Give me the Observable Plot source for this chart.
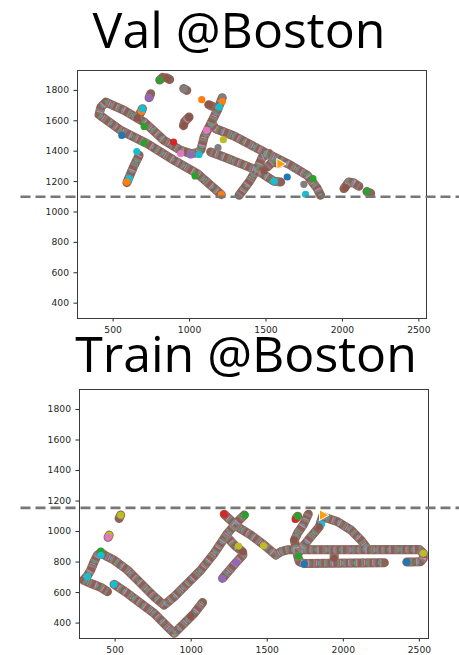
<!DOCTYPE html>
<html><head><meta charset="utf-8">
<script src="https://cdn.jsdelivr.net/npm/d3@7"></script>
<script src="https://cdn.jsdelivr.net/npm/@observablehq/plot@0.6"></script>
<style>
body{margin:0;width:459px;height:655px;position:relative;overflow:hidden;background:#fff}
.t{position:absolute;font-family:"Open Sans";font-size:50px;line-height:50px;height:56px;white-space:nowrap;transform:translateX(-50%);color:#000;z-index:2}
.p{position:absolute;left:0;z-index:1}
</style></head>
<body>
<div class="p" id="p1" style="top:60px"></div>
<div class="p" id="p2" style="top:379px"></div>
<div class="t" id="t1" style="left:239px;top:4px"></div>
<div class="t" id="t2" style="left:246px;top:328px"></div>
<script>
// ---------- data ----------
const titles = ["Val @Boston", "Train @Boston"];
const xTicks = [500, 1000, 1500, 2000, 2500];
const yTicks = [400, 600, 800, 1000, 1200, 1400, 1600, 1800];
const valThreshold = 1100;
const trainThreshold = 1155;
const tab10 = ["#1f77b4","#ff7f0e","#2ca02c","#d62728","#9467bd","#8c564b","#e377c2","#7f7f7f","#bcbd22","#17becf"];

// Val trajectories (x, y)
const valLoop = [[1208,1114],[1051,1252],[899,1340],[724,1449],[550,1537],[408,1640],[420,1690],[452,1723],[572,1669],[703,1592],[833,1471],[942,1406],[1008,1384],[1051,1390],[1075,1410],[1095,1493],[1138,1581],[1182,1669],[1214,1752]];
const valDiag = [[1150,1575],[1171,1548],[1291,1500],[1509,1384],[1662,1307],[1770,1241],[1836,1154],[1857,1110]];
const valMid = [[1138,1395],[1225,1362],[1334,1318],[1443,1274],[1509,1230],[1552,1202],[1596,1197]];
const valCross = [[1324,1110],[1389,1197],[1443,1285],[1476,1362],[1520,1384]];
const valHook = [[1509,1296],[1542,1329],[1585,1318]];
const valLeftSeg = [[590,1193],[630,1290],[670,1373]];
const valStub = [[659,1618],[685,1664],[692,1680]];
const valRightHook = [[2010,1154],[2042,1197],[2075,1191],[2108,1169]];
const valFrags = [[[2160,1134],[2185,1122]],[[805,1868],[825,1887]],[[850,1883],[870,1872]],[[735,1752],[746,1778]],[[962,1812],[982,1800]],[[960,1568],[968,1595],[997,1625]],[[1125,1706],[1150,1695]]];
// Val single markers: x, y, colour index
const valDots = [[805,1868,2],[855,1878,5],[735,1752,4],[964,1808,7],[1080,1739,1],[1127,1706,5],[1214,1752,7],[1215,1727,1],[1195,1690,9],[685,1664,1],[692,1680,9],[659,1618,5],[964,1570,5],[995,1622,5],[557,1504,0],[703,1563,2],[703,1454,2],[895,1460,3],[942,1384,6],[1008,1375,4],[1062,1379,9],[1221,1476,8],[1186,1423,7],[1112,1537,6],[1036,1237,2],[1208,1114,1],[655,1398,9],[605,1219,9],[589,1197,1],[1552,1202,9],[1639,1230,0],[1487,1272,5],[1748,1182,7],[1759,1116,9],[1807,1219,2],[2162,1136,2],[2020,1160,5]];
const valTri = [[1591,1316]];

// Train trajectories
const trainV = [[450,606],[406,634],[351,656],[292,682],[318,710],[340,748],[362,802],[384,846],[406,862],[440,840],[493,813],[581,748],[669,660],[757,573],[822,518],[888,573],[976,660],[1064,748],[1151,857],[1239,988],[1305,1064],[1349,1108]];
const trainLower = [[493,654],[581,595],[669,529],[757,464],[844,376],[888,333],[954,398],[1020,464],[1075,535]];
const trainRed = [[1217,1114],[1305,1031],[1393,977],[1480,911],[1557,846],[1590,868],[1634,880],[2500,882],[2526,857],[2526,824],[2508,802],[2417,800]];
const trainBranch = [[1239,960],[1290,905],[1338,868],[1340,846],[1294,796],[1206,693]];
const trainArm1 = [[1770,1114],[1740,1050],[1700,990],[1678,944],[1689,900],[1700,840],[1711,802],[1743,791],[2270,796]];
const trainArm2 = [[1711,868],[1733,900],[1787,966],[1842,1031],[1864,1100],[1900,1085],[1963,1064],[2051,1009],[2116,944],[2149,900],[2160,882]];
const trainFrags = [[[1940,850],[1940,805]],[[526,1086],[537,1108]],[[454,962],[461,977]],[[1690,1088],[1700,1101]]];
const trainDots = [[537,1108,8],[461,977,8],[454,962,6],[406,872,2],[406,844,9],[318,704,9],[493,654,9],[998,446,5],[1217,1114,3],[1355,1110,2],[1206,693,4],[1294,796,4],[1338,868,5],[1311,905,8],[1476,907,8],[1684,1079,3],[1700,1101,2],[1857,1049,9],[1842,1031,5],[1678,944,5],[1706,839,2],[1743,787,0],[2417,800,0],[2526,857,8],[1940,825,5]];
const trainTri = [[1864,1108]];

// ---------- drawing ----------
function bandMarks(paths) {
  const rows = paths.flatMap((p, i) => p.map(([x, y]) => ({x, y, id: i})));
  const base = {x: "x", y: "y", z: "id", curve: "linear", strokeLinejoin: "round"};
  return [
    Plot.line(rows, {...base, stroke: "#8c6258", strokeWidth: 9, strokeLinecap: "round"}),
    Plot.line(rows, {...base, stroke: "#86807c", strokeWidth: 8.5, strokeDasharray: "2.2,3.8", strokeLinecap: "butt"}),
    Plot.line(rows, {...base, stroke: "#d783b8", strokeWidth: 6, strokeDasharray: "1,7", strokeDashoffset: 3, strokeLinecap: "butt"}),
    Plot.line(rows, {...base, stroke: "#3fb7c4", strokeWidth: 4, strokeDasharray: "1,11", strokeDashoffset: 1, strokeLinecap: "butt"}),
    Plot.line(rows, {...base, stroke: "#52a548", strokeWidth: 4, strokeDasharray: "1,13", strokeDashoffset: 7, strokeLinecap: "butt"})
  ];
}

function panel({paths, dots, tris, threshold, xDomain, height, mT, mB, mL, mR}) {
  const dotRows = dots.map(([x, y, k]) => ({x, y, k}));
  const triRows = tris.map(([x, y]) => ({x, y}));
  return Plot.plot({
    width: 459, height,
    marginTop: mT, marginBottom: mB, marginLeft: mL, marginRight: mR,
    style: {fontFamily: "DejaVu Sans", fontSize: "9.2px", color: "#262626", background: "transparent", overflow: "visible"},
    x: {domain: xDomain, ticks: xTicks, tickSize: 3.5, tickPadding: 4, tickFormat: d => String(d), label: null},
    y: {domain: [299, 1931], ticks: yTicks, tickSize: 3.5, tickPadding: 5, tickFormat: d => String(d), label: null},
    color: {type: "ordinal", domain: d3.range(10), range: tab10},
    marks: [
      ...bandMarks(paths),
      Plot.dot(dotRows, {x: "x", y: "y", r: 3.6, fill: d => tab10[d.k], stroke: "none"}),
      Plot.dot(triRows, {x: "x", y: "y", r: 4, symbol: "triangle", fill: "#ff9f0e", stroke: "#fff", strokeWidth: 1, rotate: 90}),
      Plot.frame({stroke: "#3a3a3a", strokeWidth: 1}),
      Plot.ruleY([threshold], {stroke: "#777", strokeWidth: 2.6, strokeDasharray: "10,5", insetLeft: -(mL - 20.5), insetRight: -60})
    ]
  });
}

document.getElementById("t1").textContent = titles[0];
document.getElementById("t2").textContent = titles[1];

document.getElementById("p1").append(panel({
  paths: [valLoop, valDiag, valMid, valCross, valHook, valLeftSeg, valStub, valRightHook, ...valFrags],
  dots: valDots, tris: valTri, threshold: valThreshold,
  xDomain: [267, 2550], height: 280, mT: 10, mB: 22, mL: 77, mR: 33
}));
document.getElementById("p2").append(panel({
  paths: [trainV, trainLower, trainRed, trainBranch, trainArm1, trainArm2, ...trainFrags],
  dots: trainDots, tris: trainTri, threshold: trainThreshold,
  xDomain: [266, 2560], height: 276, mT: 10, mB: 17, mL: 79, mR: 31
}));
</script>
</body></html>
